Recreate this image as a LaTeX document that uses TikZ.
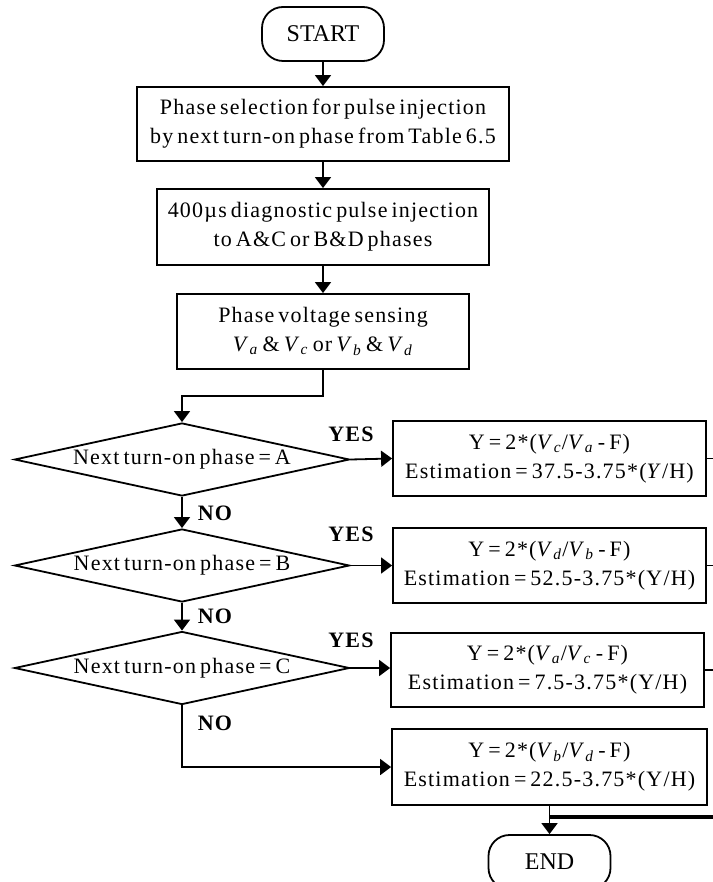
\documentclass[tikz,border=0pt]{standalone}
\usepackage{fontspec}
\setmainfont{Liberation Serif}[LetterSpace=5.5,WordSpace=0.6]
\newfontfamily\termfont{Liberation Serif}
\usetikzlibrary{shapes.geometric,arrows.meta}

% italic phase-voltage symbol, e.g. \pv{a} gives V_a
\newcommand{\pv}[1]{\textit{V}\textsubscript{\textit{#1}}}

\begin{document}
\begin{tikzpicture}[x=1pt,y=-1pt,
  every node/.style={font=\fontsize{22}{29}\selectfont},
  line/.style={line width=1.8pt},
  arr/.style={line, -{Triangle[length=11pt,width=16pt]}},
  procbox/.style={draw, line width=1.8pt, rectangle, align=center, inner sep=0pt},
  termbox/.style={draw, line width=1.8pt, rectangle, rounded corners=21pt, inner sep=0pt,
                  minimum width=122pt, minimum height=54pt,
                  font=\termfont\fontsize{24}{28}\selectfont},
  decision/.style={draw, line width=1.8pt, diamond, inner sep=0pt, aspect=4.6,
                   minimum width=335pt, minimum height=73pt},
  lbl/.style={font=\fontsize{22}{24}\selectfont\bfseries, inner sep=0pt}
]
\useasboundingbox (0,0) rectangle (712,882);

% terminals
\node[termbox] (start) at (323,34) {START};
\node[termbox] (end) at (549.5,862) {END};

% process steps
\node[procbox, minimum width=372pt, minimum height=74pt] (sel) at (323,124)
  {Phase selection for pulse injection\\by next turn-on phase from Table 6.5};
\node[procbox, minimum width=332pt, minimum height=76pt] (inj) at (323,227)
  {400µs diagnostic pulse injection\\to A\&C or B\&D phases};
\node[procbox, minimum width=292pt, minimum height=75pt] (sense) at (323,331.5)
  {Phase voltage sensing\\\pv{a} \& \pv{c} or \pv{b} \& \pv{d}};

% phase decisions
\node[decision] (dA) at (182,459.5) {Next turn-on phase = A};
\node[decision] (dB) at (182,565.5) {Next turn-on phase = B};
\node[decision] (dC) at (182,668) {Next turn-on phase = C};

% estimation blocks
\node[procbox, minimum width=313pt, minimum height=75pt] (rA) at (549.5,458.5)
  {Y = 2*(\pv{c}/\pv{a} - F)\\Estimation = 37.5-3.75*(\textit{Y}/H)};
\node[procbox, minimum width=313pt, minimum height=75pt] (rB) at (549.5,565.5)
  {Y = 2*(\pv{d}/\pv{b} - F)\\Estimation = 52.5-3.75*(Y/H)};
\node[procbox, minimum width=313pt, minimum height=74pt] (rC) at (547.5,670)
  {Y = 2*(\pv{a}/\pv{c} - F)\\Estimation = 7.5-3.75*(Y/H)};
\node[procbox, minimum width=315pt, minimum height=76pt] (rD) at (549.5,767)
  {Y = 2*(\pv{b}/\pv{d} - F)\\Estimation = 22.5-3.75*(Y/H)};

% junction points
\coordinate (j1) at (323,396);
\coordinate (j2) at (549.5,817);
\coordinate (oA) at (720,458.5);
\coordinate (oB) at (720,565.5);
\coordinate (oC) at (720,670);
\coordinate (oD) at (720,817);

% main flow
\draw[arr] (start) -- (sel);
\draw[arr] (sel) -- (inj);
\draw[arr] (inj) -- (sense);
\draw[arr] (sense.south) -- (j1) -| (dA.north);
\draw[arr] (dA.south) -- (dB.north);
\draw[arr] (dB.south) -- (dC.north);
\draw[arr] (dC.south) |- (rD.west);

% yes branches
\draw[arr] (dA.east) -- (rA.west);
\draw[arr] (dB.east) -- (rB.west);
\draw[arr] (dC.east) -- (rC.west |- dC.east);

% outputs to the common return path
\draw[line] (rA.east) -- (oA);
\draw[line] (rB.east) -- (oB);
\draw[line] (rC.east) -- (oC);
\draw[line width=3.2pt] (j2) -- (oD);
\draw[arr] (rD.south) -- (end.north);

% branch labels
\node[lbl] (yA) at (351,434) {YES};
\node[lbl] (yB) at (351,534) {YES};
\node[lbl] (yC) at (351,640) {YES};
\node[lbl] (nA) at (215,513) {NO};
\node[lbl] (nB) at (215,616) {NO};
\node[lbl] (nC) at (215,723) {NO};
\end{tikzpicture}
\end{document}
